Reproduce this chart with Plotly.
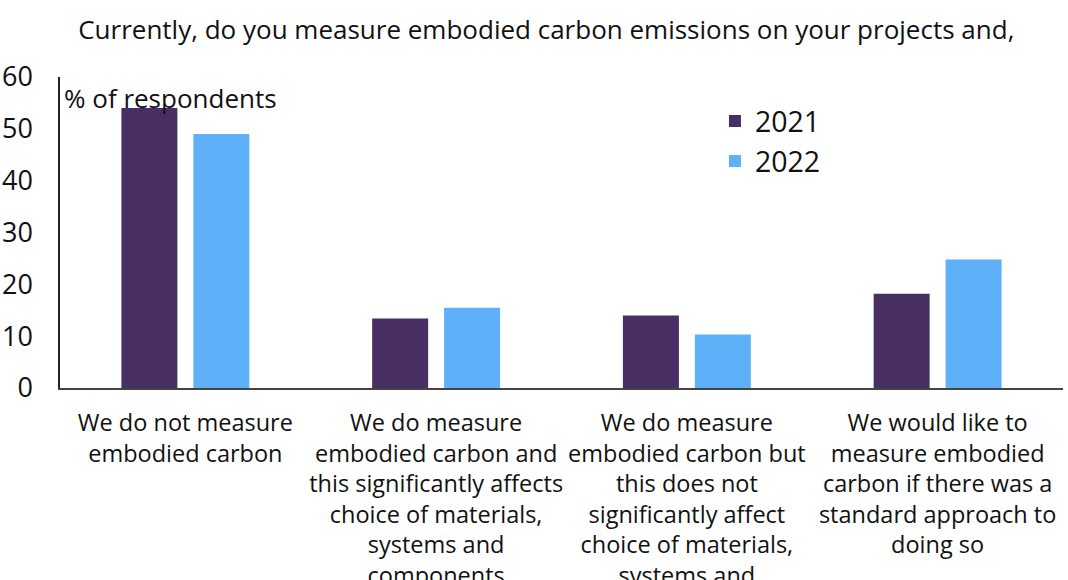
import plotly.graph_objects as go

categories = [
    "We do not measure<br>embodied carbon",
    "We do measure<br>embodied carbon and<br>this significantly affects<br>choice of materials,<br>systems and<br>components",
    "We do measure<br>embodied carbon but<br>this does not<br>significantly affect<br>choice of materials,<br>systems and<br>components",
    "We would like to<br>measure embodied<br>carbon if there was a<br>standard approach to<br>doing so",
]
years = ["2021", "2022"]
values_2021 = [54, 13.4, 14.0, 18.2]
values_2022 = [49, 15.5, 10.3, 24.8]
y_ticks = [0, 10, 20, 30, 40, 50, 60]

colors = {"2021": "#472f63", "2022": "#5eb1f8"}
font_family = "Open Sans, Noto Sans, DejaVu Sans, sans-serif"

fig = go.Figure()
for yr, vals in zip(years, [values_2021, values_2022]):
    fig.add_trace(go.Bar(x=categories, y=vals, name=yr, marker_color=colors[yr],
                         marker_line_width=0))

fig.update_layout(
    width=1068, height=580,
    margin=dict(l=60, r=5, t=77, b=192),
    paper_bgcolor="white", plot_bgcolor="white",
    barmode="group", bargap=0.426, bargroupgap=0.222,
    font=dict(family=font_family, color="#111111"),
    title=dict(text="Currently, do you measure embodied carbon emissions on your projects and,",
               x=0.5115, xanchor="center", y=0.948, yanchor="middle",
               font=dict(size=26, color="#111111")),
    legend=dict(x=0.653, y=0.939, xanchor="left", yanchor="top",
                font=dict(size=28.5, color="#111111"), bgcolor="rgba(0,0,0,0)",
                itemwidth=30, tracegroupgap=0),
    showlegend=True,
)
fig.update_xaxes(showline=True, linecolor="#444444", linewidth=1.5, automargin=False,
                 showgrid=False, ticks="", tickangle=0,
                 tickfont=dict(size=23.5, color="#111111"),
                 ticklabelstandoff=13)
fig.update_yaxes(range=[0, 60], tickvals=y_ticks, showline=True, linecolor="#222222",
                 linewidth=1.5, showgrid=False, ticks="", zeroline=False, automargin=False,
                 tickfont=dict(size=27, color="#111111"), ticklabelstandoff=20)
fig.add_annotation(text="% of respondents", xref="paper", yref="y", x=0.002, y=56,
                   xanchor="left", yanchor="middle", showarrow=False,
                   font=dict(size=26, color="#111111"))

fig.write_html("out.html", config={"displayModeBar": False},
               post_script="document.body.style.margin='0';document.body.style.overflow='hidden';")
